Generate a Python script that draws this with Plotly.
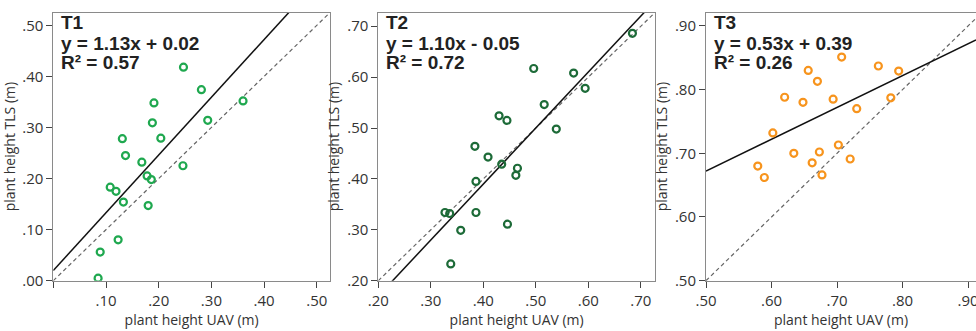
import plotly.graph_objects as go

# ---- data ----
t1_uav = [0.247, 0.281, 0.191, 0.360, 0.188, 0.293, 0.131, 0.204, 0.137, 0.168,
          0.246, 0.178, 0.186, 0.108, 0.119, 0.133, 0.180, 0.123, 0.089, 0.085]
t1_tls = [0.418, 0.374, 0.348, 0.352, 0.309, 0.314, 0.278, 0.279, 0.245, 0.232,
          0.225, 0.205, 0.198, 0.183, 0.175, 0.154, 0.147, 0.080, 0.056, 0.005]

t2_uav = [0.684, 0.496, 0.572, 0.594, 0.516, 0.430, 0.445, 0.539, 0.384, 0.409,
          0.435, 0.465, 0.462, 0.386, 0.327, 0.336, 0.386, 0.357, 0.446, 0.338]
t2_tls = [0.686, 0.617, 0.608, 0.578, 0.546, 0.524, 0.515, 0.498, 0.464, 0.443,
          0.429, 0.421, 0.407, 0.395, 0.334, 0.332, 0.334, 0.299, 0.311, 0.233]

t3_uav = [0.707, 0.763, 0.794, 0.656, 0.670, 0.620, 0.694, 0.782, 0.648, 0.730,
          0.602, 0.702, 0.634, 0.673, 0.720, 0.662, 0.579, 0.677, 0.589]
t3_tls = [0.851, 0.837, 0.829, 0.830, 0.813, 0.788, 0.785, 0.787, 0.780, 0.770,
          0.732, 0.713, 0.700, 0.702, 0.691, 0.685, 0.680, 0.666, 0.662]

panel_names = ["T1", "T2", "T3"]
equations = ["y = 1.13x + 0.02", "y = 1.10x - 0.05", "y = 0.53x + 0.39"]
r2_labels = ["R² = 0.57", "R² = 0.72", "R² = 0.26"]
fit_slopes = [1.13, 1.10, 0.50]
fit_intercepts = [0.02, -0.05, 0.422]
marker_colors = ["#1fa84f", "#1d6b38", "#f7941d"]

axis_ranges = [[0.0, 0.525], [0.2, 0.727], [0.5, 0.912]]
y_ranges = [[0.0, 0.525], [0.2, 0.727], [0.5, 0.921]]
tick_vals = [[0.0, 0.1, 0.2, 0.3, 0.4, 0.5],
             [0.2, 0.3, 0.4, 0.5, 0.6, 0.7],
             [0.5, 0.6, 0.7, 0.8, 0.9]]
x_tick_text = [["", ".10", ".20", ".30", ".40", ".50"],
               [".20", ".30", ".40", ".50", ".60", ".70"],
               [".50", ".60", ".70", ".80", ".90"]]
y_tick_text = [[".00", ".10", ".20", ".30", ".40", ".50"],
               [".20", ".30", ".40", ".50", ".60", ".70"],
               [".50", ".60", ".70", ".80", ".90"]]

W, H = 976, 331
px_domains = [(53.3, 330.0), (378.3, 655.0), (706.0, 976.0)]
y_dom = [(331 - 280.7) / H, (331 - 12.5) / H]

xs = [t1_uav, t2_uav, t3_uav]
ys = [t1_tls, t2_tls, t3_tls]

fig = go.Figure()
layout = dict(width=W, height=H, margin=dict(l=0, r=0, t=0, b=0),
              paper_bgcolor="white", plot_bgcolor="white", showlegend=False,
              font=dict(family="Liberation Sans, Arial, sans-serif", color="#333"))
annotations = []
frame_col = "#8a8a8a"
tick_font = dict(family="Open Sans, Liberation Sans, sans-serif", size=15, color="#333")
title_font = dict(family="Open Sans, Liberation Sans, sans-serif", size=14, color="#333")

for i in range(3):
    sfx = "" if i == 0 else str(i + 1)
    xa, ya = "x" + sfx, "y" + sfx
    x0, x1 = axis_ranges[i]
    # identity line
    fig.add_trace(go.Scatter(x=[x0, x1 + 0.05], y=[x0, x1 + 0.05], mode="lines",
                             line=dict(color="#666", width=1.2, dash="4px,3px"),
                             xaxis=xa, yaxis=ya, hoverinfo="skip"))
    # fit line
    fx = [x0, x1]
    fy = [fit_slopes[i] * v + fit_intercepts[i] for v in fx]
    fig.add_trace(go.Scatter(x=fx, y=fy, mode="lines",
                             line=dict(color="#111", width=1.5),
                             xaxis=xa, yaxis=ya, hoverinfo="skip"))
    # points
    fig.add_trace(go.Scatter(x=xs[i], y=ys[i], mode="markers",
                             marker=dict(symbol="circle-open", size=7,
                                         color=marker_colors[i],
                                         line=dict(width=2.2, color=marker_colors[i])),
                             xaxis=xa, yaxis=ya))
    d0, d1 = px_domains[i]
    layout["xaxis" + sfx] = dict(
        domain=[d0 / W, min(d1 / W, 1.0)], range=axis_ranges[i], anchor=ya,
        automargin=False, ticklabeloverflow="allow",
        showline=True, linecolor=frame_col, linewidth=1, mirror=True,
        showgrid=False, zeroline=False, ticks="outside", ticklen=6,
        tickcolor="#444", tickwidth=1, tickvals=tick_vals[i], ticktext=x_tick_text[i],
        tickfont=tick_font,
        title=dict(text="plant height UAV (m)", font=title_font, standoff=6))
    layout["yaxis" + sfx] = dict(
        domain=y_dom, range=y_ranges[i], anchor=xa,
        automargin=False,
        showline=True, linecolor=frame_col, linewidth=1, mirror=(i < 2),
        showgrid=False, zeroline=False, ticks="outside", ticklen=6,
        tickcolor="#444", tickwidth=1, tickvals=tick_vals[i], ticktext=y_tick_text[i],
        tickfont=tick_font,
        title=dict(text="plant height TLS (m)", font=title_font, standoff=4))
    for txt, yc in zip([panel_names[i], equations[i], r2_labels[i]], [23, 43, 63]):
        annotations.append(dict(
            text="<b>" + txt + "</b>", xref="paper", yref="paper",
            x=(d0 + 6) / W, y=1 - yc / H, xanchor="left", yanchor="middle",
            showarrow=False,
            font=dict(family="Liberation Sans, Arial, sans-serif", size=19, color="#222")))

layout["annotations"] = annotations
fig.update_layout(**layout)
fig.write_html("out.html", config={"displayModeBar": False},
               post_script="document.body.style.margin='0';document.body.style.overflow='hidden';")
